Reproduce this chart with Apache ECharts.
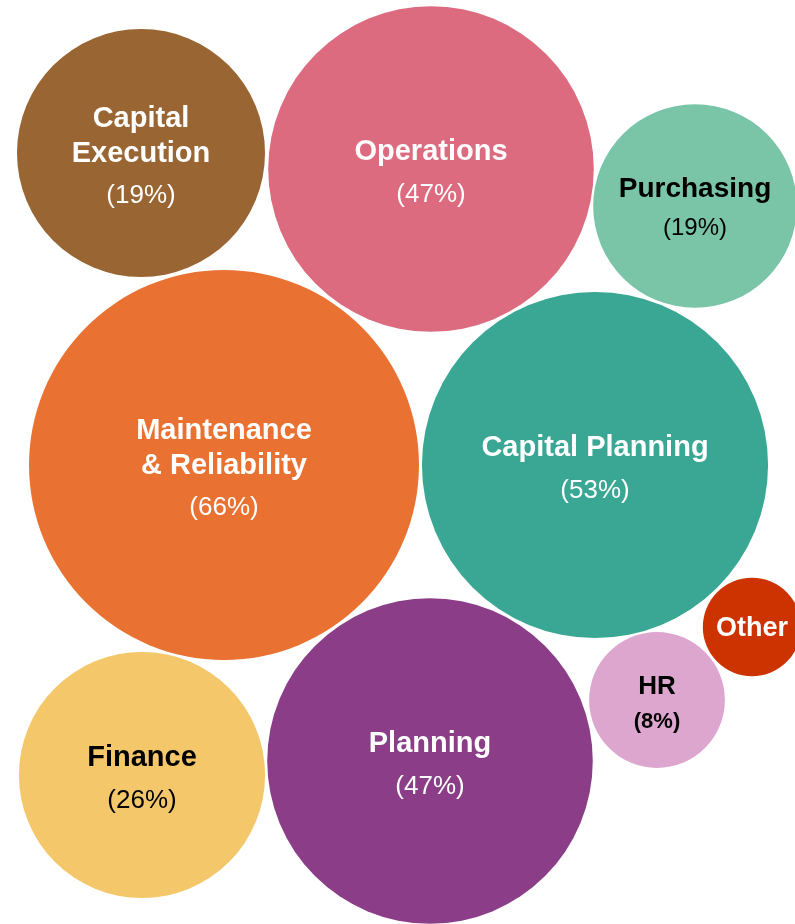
<!DOCTYPE html>
<html lang="en">
<head>
  <meta charset="utf-8">
  <title>Bubbles</title>
  <script src="https://cdn.jsdelivr.net/npm/echarts@6/dist/echarts.min.js"></script>
  <style>
    html, body { margin: 0; padding: 0; background: #fff; }
    #chart { width: 795px; height: 924px; }
  </style>
</head>
<body>
<div id="chart"></div>
<script>
  // bubble data
  const names = ['Capital\nExecution', 'Operations', 'Purchasing', 'Maintenance\n& Reliability',
    'Capital Planning', 'Other', 'HR', 'Finance', 'Planning'];
  const shares = ['19%', '47%', '19%', '66%', '53%', '', '8%', '26%', '47%'];
  const sizes = [26.7, 46, 18, 66, 52, 4.2, 8, 26.3, 46];
  const posX = [141, 431, 695, 224, 595, 752, 657, 142, 430];
  const posY = [153, 169, 206, 465, 465, 627, 700, 775, 761];
  const colors = ['#996633', '#DD6B7F', '#7AC4A8', '#E97132', '#3AA794', '#CC3300', '#DDA6CF', '#F4C76B', '#8B3E87'];
  const darkText = ['Purchasing', 'HR', 'Finance'];

  function labelFor(i) {
    const dark = darkText.indexOf(names[i]) >= 0;
    const c = dark ? '#000' : '#fff';
    let ns = 29, ps = 26, pw = 'normal', nl = 35, pl = 50, dy = 8;
    if (names[i] === 'Purchasing') { ns = 28; ps = 24; nl = 32; pl = 46; dy = 6; }
    if (names[i] === 'HR') { ns = 26; ps = 22; pw = 'bold'; nl = 30; pl = 40; dy = 7; }
    if (names[i] === 'Other') { ns = 27; dy = 2; }
    const text = shares[i] ? '{n|' + names[i].split('\n').join('}\n{n|') + '}\n{p|(' + shares[i] + ')}'
                           : '{n|' + names[i] + '}';
    return {
      show: true,
      position: 'inside',
      offset: [0, dy],
      formatter: text,
      rich: {
        n: { fontFamily: 'Liberation Sans', fontWeight: 'bold', fontSize: ns, lineHeight: nl, color: c, align: 'center' },
        p: { fontFamily: 'Liberation Sans', fontWeight: pw, fontSize: ps, lineHeight: pl, color: c, align: 'center' }
      }
    };
  }

  const chart = echarts.init(document.getElementById('chart'));
  chart.setOption({
    animation: false,
    grid: { left: 0, right: 0, top: 0, bottom: 0 },
    xAxis: { type: 'value', min: 0, max: 795, show: false },
    yAxis: { type: 'value', min: 0, max: 924, inverse: true, show: false },
    series: [{
      type: 'scatter',
      symbol: 'circle',
      symbolSize: function (val) { return Math.sqrt(val[2]) * 48; },
      data: names.map(function (n, i) {
        return {
          value: [posX[i], posY[i], sizes[i]],
          itemStyle: { color: colors[i], opacity: 1 },
          label: labelFor(i)
        };
      })
    }]
  });
</script>
</body>
</html>
